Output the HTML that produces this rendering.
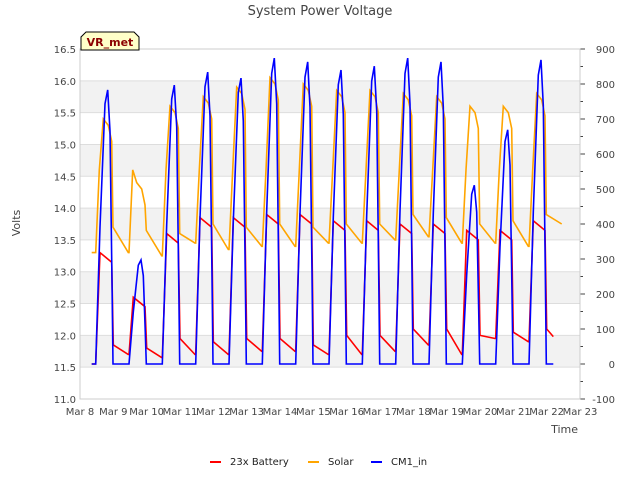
<!DOCTYPE html>
<html><head><meta charset="utf-8">
<style>
body{margin:0;background:#fff;}
svg{display:block;font-family:"DejaVu Sans","Liberation Sans",sans-serif;}
</style></head>
<body>
<svg id="chart" width="640" height="480" viewBox="0 0 640 480">
<g id="bands"></g><g id="grid"></g><g id="axes"></g><g id="series"></g>
<text x="320" y="15" text-anchor="middle" font-size="13" fill="#444">System Power Voltage</text>
<text x="20" y="223" text-anchor="middle" font-size="11" fill="#444" transform="rotate(-90 20 223)">Volts</text>
<text x="578" y="433" text-anchor="end" font-size="11" fill="#444">Time</text>
<g>
<path d="M81,50 L81,37 L86,32 L134,32 L139,37 L139,50 Z" fill="#ffffc8" stroke="#000" stroke-width="1"/>
<text x="110" y="46" text-anchor="middle" font-size="11" font-weight="bold" fill="#8b0000">VR_met</text>
</g>
<g>
<g><line x1="210" y1="462" x2="221" y2="462" stroke="#f00" stroke-width="2"/><text x="230" y="465" font-size="10" fill="#222">23x Battery</text></g>
<g><line x1="308" y1="462" x2="319" y2="462" stroke="#ffa500" stroke-width="2"/><text x="328" y="465" font-size="10" fill="#222">Solar</text></g>
<g><line x1="371" y1="462" x2="382" y2="462" stroke="#00f" stroke-width="2"/><text x="391" y="465" font-size="10" fill="#222">CM1_in</text></g>
</g>
</svg>
<script>
const days = [8,9,10,11,12,13,14,15,16,17,18,19,20,21];
const cm1Peak = [783,297,797,834,817,874,863,840,851,874,863,511,669,869];
const solarPeak = [15.4,14.4,15.6,15.75,15.9,16.05,15.95,15.85,15.85,15.8,15.75,15.6,15.6,15.8];
const solarNightStart = [13.7,13.65,13.6,13.75,13.7,13.75,13.7,13.75,13.75,13.9,13.85,13.75,13.8,13.9];
const solarNightEnd = [13.3,13.3,13.25,13.45,13.35,13.4,13.4,13.45,13.45,13.5,13.55,13.45,13.45,13.4];
const batDay = [13.3,12.6,13.6,13.85,13.85,13.9,13.9,13.8,13.8,13.75,13.75,13.65,13.65,13.8];
const batNightStart = [11.85,11.8,11.95,11.9,11.95,11.95,11.85,12.0,12.0,12.1,12.1,12.0,12.05,12.1];
const batNightEnd = [11.55,11.7,11.65,11.7,11.7,11.75,11.75,11.7,11.7,11.75,11.85,11.7,11.95,11.9];
const leftTicks = [11.0,11.5,12.0,12.5,13.0,13.5,14.0,14.5,15.0,15.5,16.0,16.5];
const rightTicks = [-100,0,100,200,300,400,500,600,700,800,900];
const xTickLabels = ['Mar 8','Mar 9','Mar 10','Mar 11','Mar 12','Mar 13','Mar 14','Mar 15','Mar 16','Mar 17','Mar 18','Mar 19','Mar 20','Mar 21','Mar 22','Mar 23'];

const X0=80,X1=580,Y0=49,Y1=399;
const xs=t=>X0+(t-8)/15*(X1-X0);
const yl=v=>Y1-(v-11)/5.5*(Y1-Y0);
const yr=v=>Y1-(v+100)/1000*(Y1-Y0);
const NS='http://www.w3.org/2000/svg';
function mk(tag,attrs,parent){const e=document.createElementNS(NS,tag);for(const k in attrs)e.setAttribute(k,attrs[k]);parent.appendChild(e);return e;}
const bands=document.getElementById('bands'),grid=document.getElementById('grid'),axes=document.getElementById('axes'),series=document.getElementById('series');
for(let i=0;i<leftTicks.length-1;i++){
  if(i%2===1){const r=mk('rect',{x:X0,y:yl(leftTicks[i+1]),width:X1-X0,height:yl(leftTicks[i])-yl(leftTicks[i+1]),fill:'#f2f2f2'},bands);
  
  }
}
leftTicks.forEach(v=>{
  const l=mk('line',{x1:X0,x2:X1,y1:yl(v),y2:yl(v),stroke:'#ddd','stroke-width':1},grid);
  
  
  const t=mk('text',{x:X0-4,y:yl(v)+4,'text-anchor':'end','font-size':10,fill:'#444'},axes);t.textContent=v.toFixed(1);
  
  
});
rightTicks.forEach(v=>{
  const t=mk('text',{x:X1+35,y:yr(v)+4,'text-anchor':'end','font-size':10,fill:'#444'},axes);t.textContent=v;
  
  
  mk('line',{x1:X1,x2:X1+5,y1:yr(v),y2:yr(v),stroke:'#444'},axes);
  if(v<900)mk('line',{x1:X1,x2:X1+3,y1:yr(v+50),y2:yr(v+50),stroke:'#444'},axes);
});
xTickLabels.forEach((s,i)=>{
  const t=mk('text',{x:xs(8+i),y:Y1+16,'text-anchor':'middle','font-size':10,fill:'#444'},axes);t.textContent=s;
  
  
});
mk('rect',{x:X0,y:Y0,width:X1-X0,height:Y1-Y0,fill:'none',stroke:'#ccc'},axes);

const bat=[],sol=[],cm=[];
days.forEach((d,i)=>{
  const p=cm1Peak[i];
  if(i===0)cm.push([d+0.35,0]);else cm.push([d+0.0,0]);
  cm.push([d+0.47,0],[d+0.6,0.5*p],[d+0.75,0.95*p],[d+0.83,p],[d+0.9,0.85*p],[d+0.96,0.3*p],[d+0.99,0]);
  if(i===0)sol.push([d+0.35,solarNightEnd[i]]);
  sol.push([d+0.47,solarNightEnd[i]],[d+0.58,14.6],[d+0.7,solarPeak[i]],[d+0.85,solarPeak[i]-0.1],[d+0.95,solarPeak[i]-0.35],[d+0.99,solarNightStart[i]]);
  const ne=i+1<days.length?solarNightEnd[i+1]:solarNightStart[i]-0.15;
  sol.push([d+1.45,ne]);
  if(i===0)bat.push([d+0.35,batNightEnd[i]]);
  bat.push([d+0.47,batNightEnd[i]],[d+0.6,batDay[i]],[d+0.95,batDay[i]-0.15],[d+1.0,batNightStart[i]]);
  const be=i+1<days.length?batNightEnd[i+1]:batNightStart[i]-0.12;
  if(i+1<days.length)bat.push([d+1.45,be]);else bat.push([d+1.2,be]);
});
cm.push([22.2,0]);
function draw(pts,ymap,color,name){
  const d=pts.map((p,j)=>(j?'L':'M')+xs(p[0]).toFixed(1)+','+ymap(p[1]).toFixed(1)).join(' ');
  const e=mk('path',{d:d,fill:'none',stroke:color,'stroke-width':1.6},series);
  
  
}
draw(bat,yl,'#f00','battery-line');
draw(sol,yl,'#ffa500','solar-line');
draw(cm,yr,'#00f','cm1-in-line');
</script>
</body></html>
